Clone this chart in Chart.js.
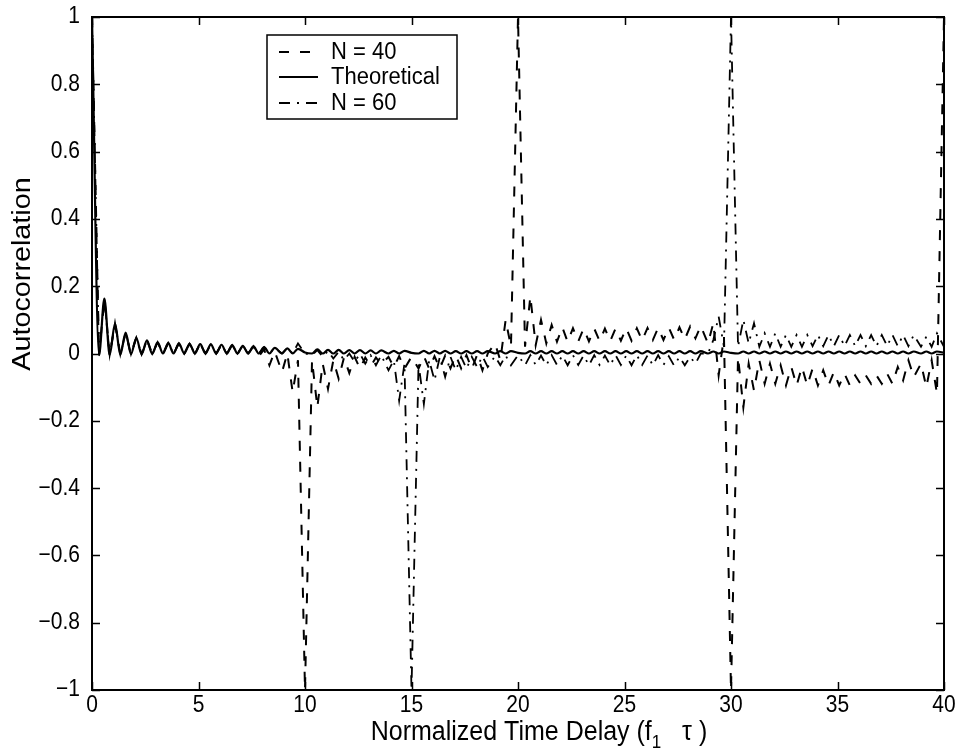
<!DOCTYPE html>
<html>
<head>
<meta charset="utf-8">
<title>Autocorrelation</title>
<script src="https://cdn.jsdelivr.net/npm/chart.js@4.4.0/dist/chart.umd.min.js"></script>
<style>
  html, body { margin: 0; padding: 0; background: #fff; }
  #wrap { width: 960px; height: 751px; }
</style>
</head>
<body>
<div id="wrap"><canvas id="acf" width="960" height="751"></canvas></div>
<script>
// Sample delays (f1 * tau). Denser around each spike so the main lobe shows.
const delays = [
  0, 0.33, 0.58, 0.83, 1.08, 1.33, 1.58, 1.83, 2.08, 2.33, 2.58, 2.83, 3.08,
  3.33, 3.58, 3.83, 4.08, 4.33, 4.58, 4.83, 5.08, 5.33, 5.58, 5.83, 6.08,
  6.33, 6.58, 6.83, 7.08, 7.33, 7.58, 7.83, 8.08, 8.33, 8.58,
  8.92, 9.17, 9.42, 9.67, 10,
  10.33, 10.58, 10.83, 11.08, 11.33, 11.58, 11.83, 12.08, 12.33, 12.58, 12.83, 13.08, 13.33, 13.58,
  13.92, 14.17, 14.42, 14.67, 15,
  15.33, 15.58, 15.83, 16.08, 16.33, 16.58, 16.83, 17.08, 17.33, 17.58, 17.83, 18.08, 18.33, 18.58,
  18.92, 19.17, 19.42, 19.67, 20,
  20.33, 20.58, 20.83, 21.08, 21.33, 21.58, 21.83, 22.08, 22.33, 22.58, 22.83, 23.08, 23.33, 23.58,
  23.83, 24.08, 24.33, 24.58, 24.83, 25.08, 25.33, 25.58, 25.83, 26.08, 26.33, 26.58, 26.83, 27.08,
  27.33, 27.58, 27.83, 28.08, 28.33, 28.58,
  28.92, 29.17, 29.42, 29.67, 30,
  30.33, 30.58, 30.83, 31.08, 31.33, 31.58, 31.83, 32.08, 32.33, 32.58, 32.83, 33.08, 33.33, 33.58,
  33.83, 34.08, 34.33, 34.58, 34.83, 35.08, 35.33, 35.58, 35.83, 36.08, 36.33, 36.58, 36.83, 37.08,
  37.33, 37.58, 37.83, 38.08, 38.33, 38.58,
  38.92, 39.17, 39.42, 39.67, 40
];

const theory = [
  1, -0.005, 0.163, -0.004, 0.089, -0.003, 0.062, -0.002, 0.046, -0.002, 0.039, -0.001, 0.033,
  0, 0.031, 0, 0.030, 0, 0.029, 0, 0.028, 0, 0.027, 0, 0.026,
  0, 0.025, 0, 0.023, 0, 0.021, 0, 0.019, 0, 0.017,
  0, 0.015, 0, 0.014, 0.003,
  0, 0.012, 0, 0.011, 0, 0.011, 0, 0.010, 0, 0.010, 0, 0.009, 0, 0.009,
  0, 0.008, 0, 0.008, 0.002,
  0, 0.008, 0, 0.008, 0, 0.008, 0, 0.007, 0, 0.007, 0, 0.007, 0, 0.007,
  0, 0.007, 0, 0.007, 0.002,
  0, 0.007, 0, 0.007, 0, 0.007, 0, 0.007, 0, 0.007, 0, 0.007, 0, 0.007,
  0, 0.007, 0, 0.007, 0, 0.007, 0, 0.007, 0, 0.007, 0, 0.007, 0, 0.007,
  0, 0.007, 0, 0.007, 0, 0.007,
  0, 0.006, 0, 0.006, 0.002,
  0, 0.006, 0, 0.006, 0, 0.006, 0, 0.006, 0, 0.006, 0, 0.006, 0, 0.006,
  0, 0.006, 0, 0.006, 0, 0.006, 0, 0.006, 0, 0.006, 0, 0.006, 0, 0.006,
  0, 0.006, 0, 0.006, 0, 0.006,
  0, 0.006, 0, 0.006, 0.002
];

const n40 = [
  1, -0.005, 0.163, -0.004, 0.089, -0.003, 0.062, -0.002, 0.046, -0.002, 0.039, -0.001, 0.033,
  0, 0.031, 0, 0.030, 0, 0.029, 0, 0.028, 0, 0.027, 0, 0.026,
  0, 0.025, 0, 0.023, 0, 0.021, -0.008, 0.012, -0.035, 0.006,
  -0.055, 0.0, -0.115, -0.02, -1,
  -0.02, -0.16, -0.03, -0.105, -0.02, -0.075, -0.012, -0.058, -0.01, -0.045, -0.012, -0.038, -0.012, -0.032,
  -0.01, -0.04, -0.008, -0.045, -0.01,
  -0.045, -0.008, -0.045, -0.008, -0.044, -0.006, -0.044, -0.006, -0.044, -0.005, -0.046, -0.004, -0.05, 0.0,
  0.03, -0.02, 0.1, 0.02, 1,
  0.02, 0.17, 0.025, 0.1, 0.03, 0.085, 0.035, 0.078, 0.035, 0.075, 0.036, 0.074, 0.036, 0.074,
  0.037, 0.074, 0.037, 0.074, 0.038, 0.075, 0.038, 0.075, 0.039, 0.076, 0.04, 0.076, 0.04, 0.077,
  0.041, 0.078, 0.042, 0.08, 0.045, 0.082,
  0.03, 0.09, -0.065, 0.05, -1,
  -0.01, -0.16, -0.03, -0.11, -0.02, -0.09, -0.03, -0.09, -0.035, -0.095, -0.04, -0.095, -0.04, -0.095,
  -0.045, -0.095, -0.05, -0.095, -0.055, -0.095, -0.06, -0.095, -0.065, -0.09, -0.065, -0.09, -0.065, -0.09,
  -0.06, -0.09, -0.04, -0.08, -0.02, -0.07,
  -0.03, -0.1, -0.02, -0.12, 1
];

const n60 = [
  1, -0.005, 0.163, -0.004, 0.089, -0.003, 0.062, -0.002, 0.046, -0.002, 0.039, -0.001, 0.033,
  0, 0.031, 0, 0.030, 0, 0.029, 0, 0.028, 0, 0.027, 0, 0.026,
  0, 0.025, 0, 0.023, 0, 0.021, 0, 0.019, 0, 0.017,
  0, 0.016, 0, 0.03, 0.0,
  -0.005, 0.01, -0.01, 0.008, -0.015, 0.005, -0.02, 0.0, -0.025, 0.0, -0.03, -0.005, -0.035, -0.005,
  -0.05, -0.02, -0.14, -0.03, -1,
  -0.03, -0.15, -0.02, -0.08, -0.01, -0.07, -0.01, -0.05, -0.01, -0.045, -0.01, -0.04, -0.008, -0.04,
  -0.008, -0.035, -0.006, -0.035, -0.005,
  -0.035, -0.005, -0.034, -0.006, -0.035, -0.005, -0.034, -0.006, -0.035, -0.005, -0.034, -0.006, -0.035, -0.005,
  -0.034, -0.006, -0.035, -0.005, -0.034, -0.006, -0.035, -0.005, -0.034, -0.006, -0.035, -0.005, -0.034, -0.008,
  -0.036, -0.01, -0.035, -0.01, -0.03, 0.0,
  0.0, 0.04, 0.11, 0.02, 1,
  0.02, 0.1, 0.03, 0.09, 0.02, 0.06, 0.02, 0.06, 0.02, 0.055, 0.02, 0.055, 0.02, 0.055,
  0.022, 0.055, 0.022, 0.055, 0.022, 0.055, 0.022, 0.055, 0.022, 0.055, 0.022, 0.055, 0.022, 0.055,
  0.022, 0.055, 0.022, 0.055, 0.022, 0.055,
  0.02, 0.05, 0.02, 0.06, 0.02
];

const xTicks = [0, 5, 10, 15, 20, 25, 30, 35, 40];
const xTickText = ['0', '5', '10', '15', '20', '25', '30', '35', '40'];
const yTicks = [-1, -0.8, -0.6, -0.4, -0.2, 0, 0.2, 0.4, 0.6, 0.8, 1];
const yTickText = ['\u22121', '\u22120.8', '\u22120.6', '\u22120.4', '\u22120.2', '0', '0.2', '0.4', '0.6', '0.8', '1'];

const legendLabels = ['N = 40', 'Theoretical', 'N = 60'];

const FONT = '"Liberation Sans", Arial, Helvetica, sans-serif';
const DASH = [10, 11];
const DASH_DOT = [11, 7, 2, 7];

const toPoints = ys => delays.map((x, i) => ({ x: x, y: ys[i] }));

// text drawn a little taller than wide, like the printed figure
function tallText(ctx, text, x, y, size, stretch) {
  ctx.save();
  ctx.font = size + 'px ' + FONT;
  ctx.translate(x, y);
  ctx.scale(1, stretch);
  ctx.fillText(text, 0, 0);
  ctx.restore();
}

// inward ticks, box, tick labels, axis titles and the legend
const frame = {
  id: 'frame',
  afterDatasetsDraw(chart) {
    const { ctx, chartArea: a, scales: { x, y } } = chart;
    ctx.save();
    ctx.strokeStyle = '#000';
    ctx.lineWidth = 1.5;
    ctx.beginPath();
    xTicks.forEach(v => {
      const px = Math.round(x.getPixelForValue(v)) + 0.5;
      ctx.moveTo(px, a.bottom); ctx.lineTo(px, a.bottom - 8);
      ctx.moveTo(px, a.top); ctx.lineTo(px, a.top + 8);
    });
    yTicks.forEach(v => {
      const py = Math.round(y.getPixelForValue(v)) + 0.5;
      ctx.moveTo(a.left, py); ctx.lineTo(a.left + 8, py);
      ctx.moveTo(a.right, py); ctx.lineTo(a.right - 8, py);
    });
    ctx.stroke();
    ctx.lineWidth = 2;
    ctx.strokeRect(a.left, a.top, a.right - a.left, a.bottom - a.top);
    ctx.restore();
  },
  afterDraw(chart) {
    const { ctx, chartArea: a, scales: { x, y } } = chart;
    ctx.save();
    ctx.fillStyle = '#000';

    // tick labels
    ctx.textBaseline = 'middle';
    ctx.textAlign = 'center';
    xTicks.forEach((v, i) => tallText(ctx, xTickText[i], x.getPixelForValue(v), a.bottom + 16, 21, 1.12));
    ctx.textAlign = 'right';
    yTicks.forEach((v, i) => tallText(ctx, yTickText[i], a.left - 12, y.getPixelForValue(v), 21, 1.12));

    // y title, stretched along its length
    ctx.save();
    ctx.font = '25px ' + FONT;
    ctx.textAlign = 'center';
    ctx.textBaseline = 'middle';
    ctx.translate(23, 274);
    ctx.rotate(-Math.PI / 2);
    ctx.scale(1.15, 1);
    ctx.fillText('Autocorrelation', 0, 0);
    ctx.restore();

    // x title with subscript
    const main = 'Normalized Time Delay (f';
    const sub = '1';
    const rest = '   \u03c4 )';
    ctx.textAlign = 'left';
    ctx.textBaseline = 'alphabetic';
    ctx.font = '25px ' + FONT;
    const wMain = ctx.measureText(main).width;
    const wRest = ctx.measureText(rest).width;
    ctx.font = '17px ' + FONT;
    const wSub = ctx.measureText(sub).width;
    let tx = 539 - (wMain + wSub + wRest) / 2;
    const base = 740;
    tallText(ctx, main, tx, base, 25, 1.1);
    tx += wMain;
    tallText(ctx, sub, tx, base + 8, 17, 1.1);
    tx += wSub;
    tallText(ctx, rest, tx, base, 25, 1.1);

    // legend
    const box = { left: 267, top: 35, width: 190, height: 84 };
    ctx.fillStyle = '#fff';
    ctx.fillRect(box.left, box.top, box.width, box.height);
    ctx.strokeStyle = '#000';
    ctx.lineWidth = 1.5;
    ctx.strokeRect(box.left, box.top, box.width, box.height);
    const rows = [52, 77, 103];
    const dashes = [DASH, [], DASH_DOT];
    ctx.fillStyle = '#000';
    ctx.textBaseline = 'middle';
    legendLabels.forEach((label, i) => {
      ctx.setLineDash(dashes[i]);
      ctx.lineWidth = 2;
      ctx.beginPath();
      ctx.moveTo(279, rows[i]);
      ctx.lineTo(318, rows[i]);
      ctx.stroke();
      ctx.setLineDash([]);
      tallText(ctx, label, 331, rows[i] + 1, 22, 1.05);
    });
    ctx.restore();
  }
};

const ctx = document.getElementById('acf').getContext('2d');
const chart = new Chart(ctx, {
  type: 'line',
  data: {
    datasets: [
      // estimated curves: straight segments keep the spikes pointed
      { label: legendLabels[0], data: toPoints(n40), borderColor: '#000', borderWidth: 2, borderDash: DASH,
        tension: 0, order: 3 },
      // theoretical curve: smooth through its lobes
      { label: legendLabels[1], data: toPoints(theory), borderColor: '#000', borderWidth: 2.2,
        cubicInterpolationMode: 'monotone', order: 2 },
      { label: legendLabels[2], data: toPoints(n60), borderColor: '#000', borderWidth: 1.8, borderDash: DASH_DOT,
        tension: 0, order: 1 }
    ]
  },
  options: {
    responsive: false,
    animation: false,
    devicePixelRatio: 1,
    elements: { point: { radius: 0 }, line: { borderCapStyle: 'butt' } },
    layout: { padding: { top: 17, right: 16, left: 0, bottom: 0 } },
    plugins: { legend: { display: false }, tooltip: { enabled: false } },
    scales: {
      x: {
        type: 'linear', min: 0, max: 40,
        afterBuildTicks: s => { s.ticks = xTicks.map(v => ({ value: v })); },
        afterFit: s => { s.height = 61; },
        grid: { display: false, drawTicks: false },
        border: { display: false },
        ticks: { display: false }
      },
      y: {
        type: 'linear', min: -1, max: 1,
        afterBuildTicks: s => { s.ticks = yTicks.map(v => ({ value: v })); },
        afterFit: s => { s.width = 92; },
        grid: { display: false, drawTicks: false },
        border: { display: false },
        ticks: { display: false }
      }
    }
  },
  plugins: [frame]
});
</script>
</body>
</html>
